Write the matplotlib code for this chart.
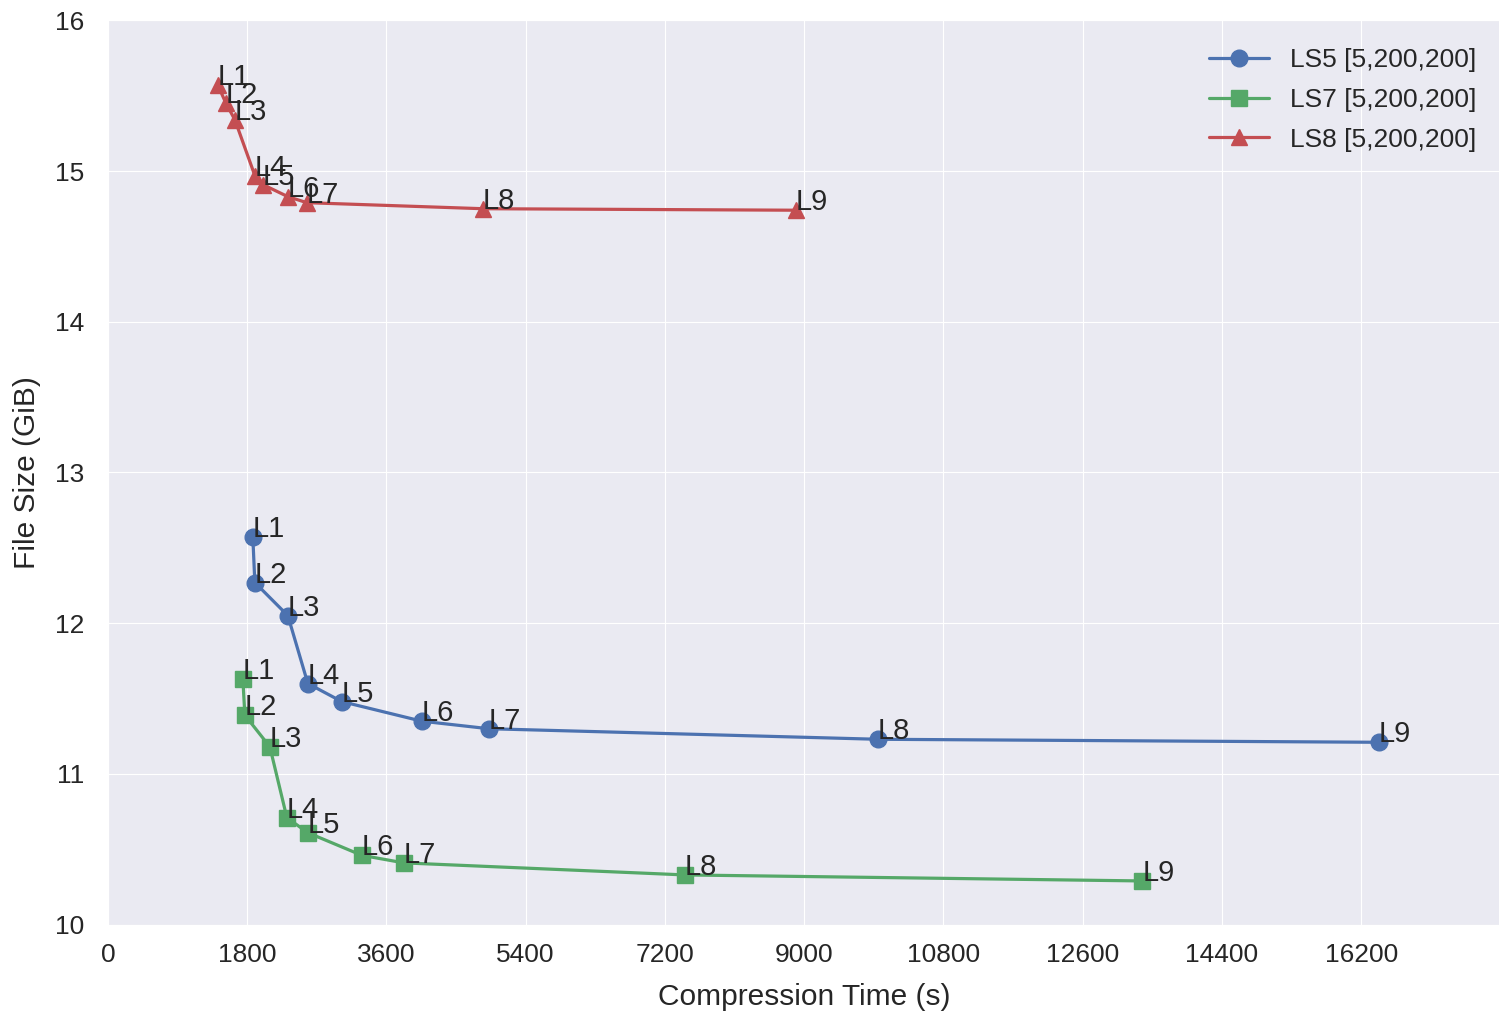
import matplotlib
matplotlib.use('Agg')
import matplotlib.pyplot as plt
import seaborn as sns

# 数据：压缩时间(秒)和文件大小(GiB)
levels = ['L1', 'L2', 'L3', 'L4', 'L5', 'L6', 'L7', 'L8', 'L9']

ls5_time = [1873, 1899, 2326, 2584, 3023, 4057, 4922, 9948, 16430]
ls5_size = [12.57, 12.27, 12.05, 11.60, 11.48, 11.35, 11.30, 11.23, 11.21]

ls7_time = [1744, 1770, 2093, 2313, 2584, 3282, 3824, 7455, 13372]
ls7_size = [11.63, 11.39, 11.18, 10.71, 10.61, 10.46, 10.41, 10.33, 10.29]

ls8_time = [1421, 1525, 1641, 1899, 2003, 2326, 2571, 4845, 8895]
ls8_size = [15.57, 15.45, 15.34, 14.97, 14.91, 14.83, 14.79, 14.75, 14.74]

series = [
    ('LS5 [5,200,200]', ls5_time, ls5_size, 'o', '#4C72B0'),
    ('LS7 [5,200,200]', ls7_time, ls7_size, 's', '#55A868'),
    ('LS8 [5,200,200]', ls8_time, ls8_size, '^', '#C44E52'),
]

xticks = list(range(0, 18000, 1800))

sns.set_style('darkgrid')
plt.rcParams['font.family'] = ['Liberation Sans', 'DejaVu Sans']
plt.rcParams['text.color'] = '#262626'
plt.rcParams['axes.labelcolor'] = '#262626'
plt.rcParams['xtick.color'] = '#262626'
plt.rcParams['ytick.color'] = '#262626'

fig = plt.figure(figsize=(14.99, 10.15), dpi=100)
ax = fig.add_axes([0.072, 0.089, 0.929, 0.891])

for name, t, s, m, c in series:
    ax.plot(t, s, marker=m, color=c, linewidth=2.3, markersize=12, label=name)
    # 每个点加上级别标签
    for lv, xx, yy in zip(levels, t, s):
        ax.annotate(lv, (xx, yy), fontsize=21, color='#262626')

ax.set_xlim(0, 18000)
ax.set_ylim(10, 16)
ax.set_xticks(xticks)
ax.tick_params(axis='both', labelsize=19, length=0)
ax.tick_params(axis='x', pad=13)
ax.tick_params(axis='y', pad=17)
ax.set_xlabel('Compression Time (s)', fontsize=21.5, labelpad=12)
ax.set_ylabel('File Size (GiB)', fontsize=21.5, labelpad=10)
ax.legend(loc='upper right', bbox_to_anchor=(1.0, 0.9956), fontsize=19,
          frameon=False, numpoints=1, handlelength=2.3, labelspacing=0.6)

plt.savefig('out.png', dpi=100)
